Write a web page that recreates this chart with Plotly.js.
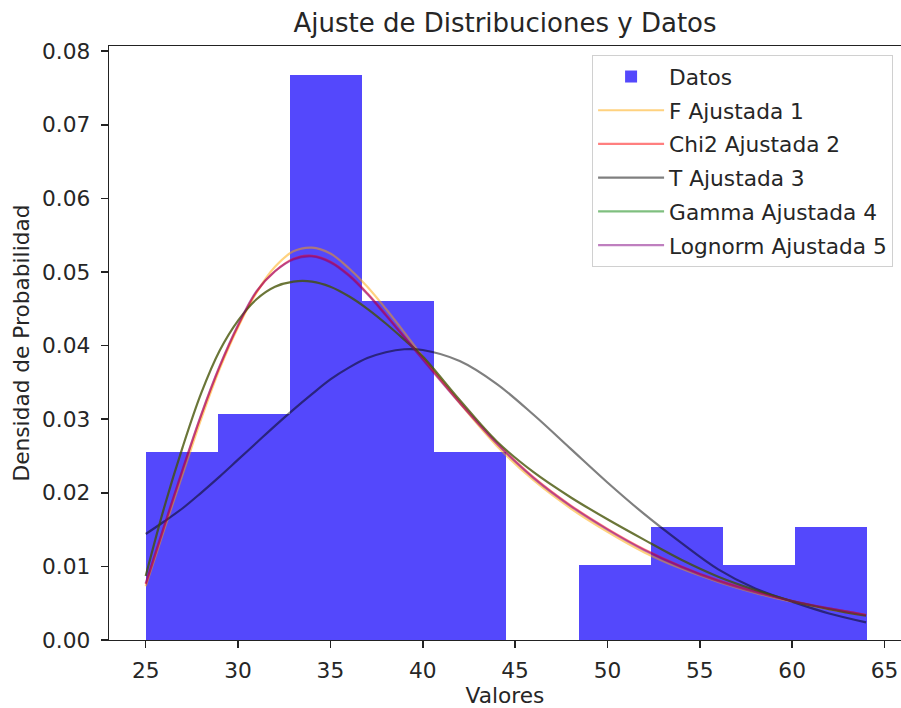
<!DOCTYPE html>
<html>
<head>
<meta charset="utf-8">
<script src="https://cdn.plot.ly/plotly-3.0.1.min.js"></script>
<style>
html,body{margin:0;padding:0;background:#fff;}
#chart{width:901px;height:708px;}
</style>
</head>
<body>
<div id="chart"></div>
<script>
// Histogram bin edges and densities
const binEdges = [25.0, 28.906, 32.812, 36.718, 40.624, 44.53, 48.436, 52.342, 56.248, 60.154, 64.06];
const densities = [0.0256, 0.0307, 0.0768, 0.0461, 0.0256, 0.0, 0.0102, 0.0154, 0.0102, 0.0154];

// Curve sample points
const curveX = [25,26,27,28,29,30,31,32,33,34,35,36,37,38,39,40,42,44,46,48,50,52,54,56,58,60,62,64];
const fFit =       [0.0073,0.0150,0.0225,0.0300,0.0368,0.0425,0.0472,0.0507,0.0528,0.0533,0.0525,0.0505,0.0480,0.0450,0.0418,0.0385,0.0322,0.0264,0.0217,0.0179,0.0147,0.0119,0.0097,0.0079,0.0064,0.0052,0.0042,0.0034];
const chi2Fit =    [0.0076,0.0154,0.0231,0.0305,0.0371,0.0427,0.0473,0.0501,0.0518,0.0522,0.0514,0.0496,0.0471,0.0442,0.0412,0.0382,0.0323,0.0268,0.0221,0.0183,0.0151,0.0123,0.0100,0.0081,0.0066,0.0053,0.0043,0.0034];
const tFit =       [0.0144,0.0161,0.0179,0.0200,0.0222,0.0245,0.0268,0.0291,0.0313,0.0334,0.0354,0.0370,0.0383,0.0391,0.0395,0.0394,0.0379,0.0348,0.0306,0.0260,0.0214,0.0171,0.0132,0.0096,0.0070,0.0052,0.0036,0.0024];
const gammaFit =   [0.0087,0.0180,0.0262,0.0335,0.0393,0.0434,0.0463,0.0480,0.0487,0.0487,0.0480,0.0467,0.0450,0.0430,0.0408,0.0385,0.0326,0.0270,0.0228,0.0194,0.0164,0.0136,0.0109,0.0086,0.0068,0.0053,0.0042,0.0033];
const lognormFit = [0.0077,0.0155,0.0232,0.0306,0.0372,0.0428,0.0474,0.0501,0.0517,0.0521,0.0513,0.0495,0.0470,0.0441,0.0411,0.0381,0.0322,0.0267,0.0220,0.0182,0.0150,0.0122,0.0099,0.0080,0.0065,0.0053,0.0043,0.0034];

const seriesNames = ["Datos","F Ajustada 1","Chi2 Ajustada 2","T Ajustada 3","Gamma Ajustada 4","Lognorm Ajustada 5"];

const centers = [], widths = [];
for (let i = 0; i < densities.length; i++) {
  centers.push((binEdges[i] + binEdges[i+1]) / 2);
  widths.push(binEdges[i+1] - binEdges[i]);
}

const FONT = "DejaVu Sans, sans-serif";
const traces = [
  {type:'bar', x:centers, y:densities, width:widths, name:seriesNames[0],
   marker:{color:'rgb(84,72,252)', line:{width:0}}, legendgroup:'a'},
  {type:'scatter', mode:'lines', x:curveX, y:fFit, name:seriesNames[1], line:{color:'rgba(255,165,0,0.5)', width:2.2, shape:'spline'}, legendgroup:'b'},
  {type:'scatter', mode:'lines', x:curveX, y:chi2Fit, name:seriesNames[2], line:{color:'rgba(255,0,0,0.5)', width:2.2, shape:'spline'}, legendgroup:'c'},
  {type:'scatter', mode:'lines', x:curveX, y:tFit, name:seriesNames[3], line:{color:'rgba(0,0,0,0.5)', width:2.2, shape:'spline'}, legendgroup:'d'},
  {type:'scatter', mode:'lines', x:[null], y:[null], name:seriesNames[4], line:{color:'rgba(0,128,0,0.5)', width:2.2}, legendgroup:'e', hoverinfo:'skip'},
  {type:'scatter', mode:'lines', x:curveX, y:gammaFit, name:seriesNames[4], line:{color:'rgba(65,80,0,0.78)', width:2.2, shape:'spline'}, showlegend:false, legendgroup:'e'},
  {type:'scatter', mode:'lines', x:curveX, y:lognormFit, name:seriesNames[5], line:{color:'rgba(128,0,128,0.5)', width:2.2, shape:'spline'}, legendgroup:'f'}
];

const layout = {
  width:901, height:708,
  margin:{l:109, r:0, t:46, b:68, pad:0},
  paper_bgcolor:'#fff', plot_bgcolor:'#fff',
  font:{family:FONT, size:21.7, color:'#262626'},
  title:{text:'Ajuste de Distribuciones y Datos', font:{family:FONT, size:26, color:'#262626'}, xref:'paper', x:0.5, xanchor:'center', y:0.968, yanchor:'middle'},
  bargap:0,
  showlegend:true,
  legend:{x:0.99, xanchor:'right', y:0.985, yanchor:'top', bgcolor:'rgba(255,255,255,0.8)', bordercolor:'#d0d0d0', borderwidth:1,
          font:{family:FONT, size:21.7, color:'#262626'}, tracegroupgap:2.5, traceorder:'grouped', itemwidth:66},
  xaxis:{range:[23.013, 65.893], tickvals:[25,30,35,40,45,50,55,60,65], ticktext:['25','30','35','40','45','50','55','60','65'],
         showgrid:false, zeroline:false, showline:true, linecolor:'#222', linewidth:1.3, mirror:true,
         ticks:'outside', ticklen:7, tickwidth:1.5, tickcolor:'#222', ticklabelstandoff:4,
         title:{text:'Valores', font:{family:FONT, size:21.7, color:'#262626'}, standoff:5}},
  yaxis:{range:[0, 0.0807], tickvals:[0,0.01,0.02,0.03,0.04,0.05,0.06,0.07,0.08],
         ticktext:['0.00','0.01','0.02','0.03','0.04','0.05','0.06','0.07','0.08'],
         showgrid:false, zeroline:false, showline:true, linecolor:'#222', linewidth:1.3, mirror:false,
         ticks:'outside', ticklen:7, tickwidth:1.5, tickcolor:'#222', ticklabelstandoff:6,
         title:{text:'Densidad de Probabilidad', font:{family:FONT, size:21.7, color:'#262626'}, standoff:6}}
};

Plotly.newPlot('chart', traces, layout, {displayModeBar:false, staticPlot:true});
</script>
</body>
</html>
